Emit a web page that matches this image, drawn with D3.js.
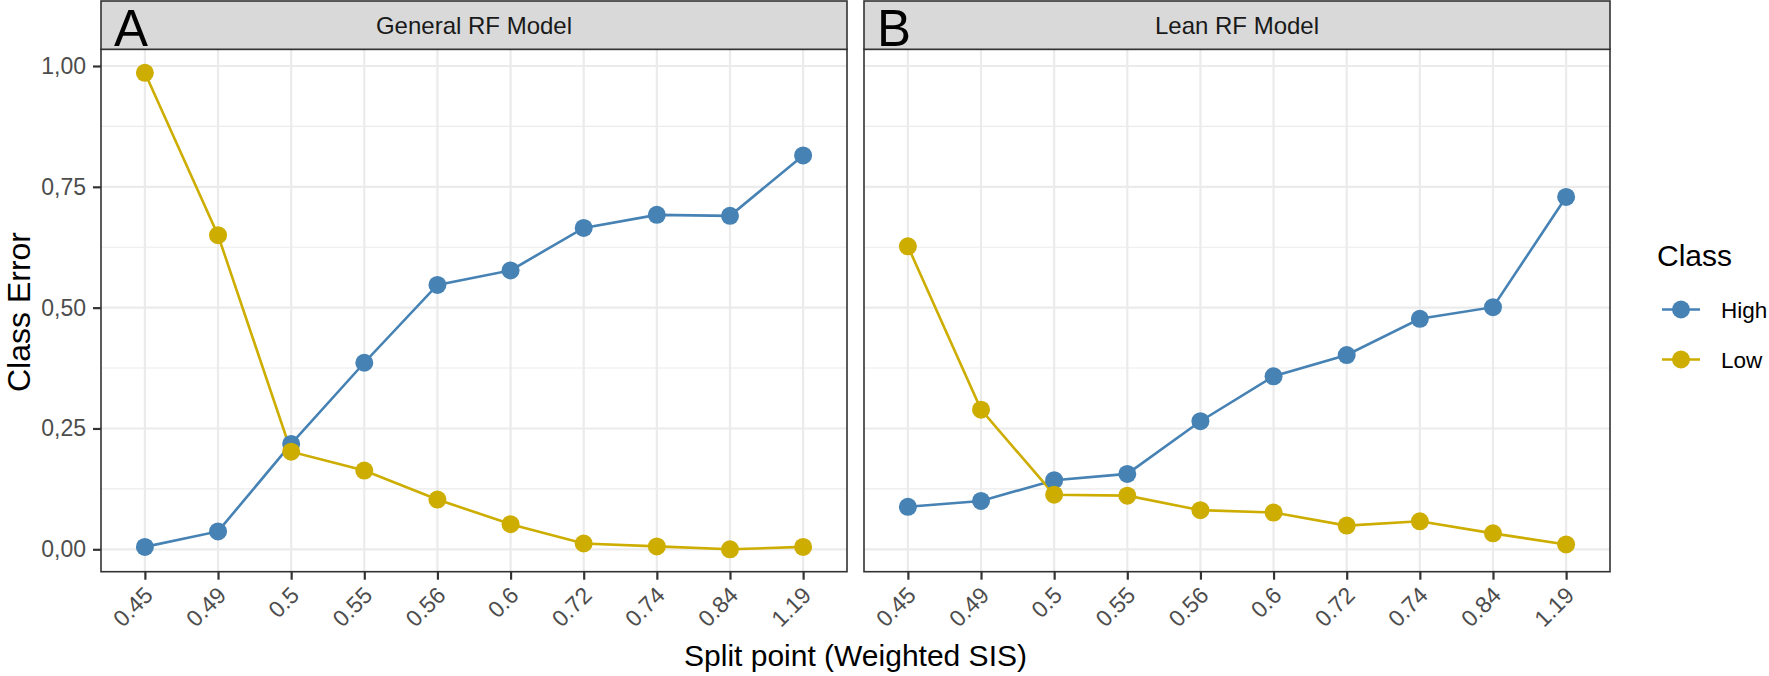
<!DOCTYPE html>
<html><head><meta charset="utf-8">
<script src="https://cdn.jsdelivr.net/npm/d3@7"></script>
<style>
body{margin:0;background:#fff;}
text{font-family:"Liberation Sans",Arial,Helvetica,sans-serif;}
</style></head>
<body><svg id="chart" width="1769" height="676"></svg>
<script>
const categories = ["0.45","0.49","0.5","0.55","0.56","0.6","0.72","0.74","0.84","1.19"];
const panels = ["General RF Model","Lean RF Model"];
const panelLabels = ["A","B"];
const seriesNames = ["High","Low"];
const generalHigh = [0.005,0.037,0.218,0.386,0.547,0.577,0.665,0.692,0.690,0.815];
const generalLow  = [0.986,0.650,0.202,0.163,0.103,0.052,0.012,0.006,0.000,0.005];
const leanHigh    = [0.088,0.100,0.143,0.156,0.265,0.358,0.402,0.477,0.501,0.729];
const leanLow     = [0.627,0.289,0.113,0.111,0.081,0.076,0.049,0.058,0.033,0.010];
const yTicks = [0,0.25,0.5,0.75,1];
const yTickLabels = ["0,00","0,25","0,50","0,75","1,00"];
const yMinor = [0.125,0.375,0.625,0.875];
const colors = {High:"#4682B4", Low:"#CDAD00"};

const data = [
  {High: generalHigh, Low: generalLow},
  {High: leanHigh, Low: leanLow}
];

const svg = d3.select("#chart");
const panelX = [101, 864];
const panelW = 746;
const stripTop = 1, panelTop = 49.3, panelBottom = 571.7;

const y = d3.scaleLinear().domain([0,1]).range([549.3,66]);
const grid = "#EBEBEB", dark = "#333333", tickCol = "#4D4D4D";

panels.forEach((title, pi) => {
  const x0 = panelX[pi];
  const x = d3.scalePoint().domain(categories).range([x0, x0+panelW]).padding(0.6);
  const g = svg.append("g");
  g.append("rect").attr("x",x0).attr("y",panelTop).attr("width",panelW).attr("height",panelBottom-panelTop).attr("fill","#fff");
  g.selectAll(".mn").data(yMinor).enter().append("line")
    .attr("x1",x0).attr("x2",x0+panelW).attr("y1",d=>y(d)).attr("y2",d=>y(d))
    .attr("stroke",grid).attr("stroke-width",1.1);
  g.selectAll(".mj").data(yTicks).enter().append("line")
    .attr("x1",x0).attr("x2",x0+panelW).attr("y1",d=>y(d)).attr("y2",d=>y(d))
    .attr("stroke",grid).attr("stroke-width",2.2);
  g.selectAll(".vx").data(categories).enter().append("line")
    .attr("x1",d=>x(d)).attr("x2",d=>x(d)).attr("y1",panelTop).attr("y2",panelBottom)
    .attr("stroke",grid).attr("stroke-width",2.2);
  seriesNames.forEach(s => {
    const vals = data[pi][s];
    const line = d3.line().x((d,i)=>x(categories[i])).y(d=>y(d));
    g.append("path").datum(vals).attr("d",line).attr("fill","none")
      .attr("stroke",colors[s]).attr("stroke-width",2.6);
  });
  seriesNames.forEach(s => {
    const vals = data[pi][s];
    g.selectAll(".pt"+s).data(vals).enter().append("circle")
      .attr("cx",(d,i)=>x(categories[i])).attr("cy",d=>y(d)).attr("r",9)
      .attr("fill",colors[s]);
  });
  g.append("rect").attr("x",x0).attr("y",panelTop).attr("width",panelW).attr("height",panelBottom-panelTop)
    .attr("fill","none").attr("stroke",dark).attr("stroke-width",1.6);
  g.append("rect").attr("x",x0).attr("y",stripTop).attr("width",panelW).attr("height",panelTop-stripTop)
    .attr("fill","#D9D9D9").attr("stroke",dark).attr("stroke-width",1.6);
  g.append("text").attr("x",x0+panelW/2).attr("y",34).attr("text-anchor","middle")
    .attr("font-size",24).attr("fill","#1A1A1A").text(title);
  g.append("text").attr("x",x0+13).attr("y",46).attr("font-size",51).attr("fill","#000")
    .text(panelLabels[pi]);
  const xa = g.append("g").attr("transform",`translate(0,${panelBottom})`)
    .call(d3.axisBottom(x).tickSize(8).tickSizeOuter(0));
  xa.select(".domain").remove();
  xa.selectAll(".tick line").attr("stroke",dark).attr("stroke-width",2.2);
  xa.selectAll(".tick text").attr("font-size",23).attr("fill",tickCol)
    .attr("text-anchor","end").attr("dy",null).attr("y",null)
    .attr("transform","translate(9,25) rotate(-45)");
  if (pi === 0) {
    const ya = g.append("g").attr("transform",`translate(${x0},0)`)
      .call(d3.axisLeft(y).tickValues(yTicks).tickFormat((d,i)=>yTickLabels[i]).tickSize(8).tickSizeOuter(0));
    ya.select(".domain").remove();
    ya.selectAll(".tick line").attr("stroke",dark).attr("stroke-width",2.2);
    ya.selectAll(".tick text").attr("font-size",23).attr("fill",tickCol).attr("x",-15);
  }
});

svg.append("text").attr("x",(panelX[0]+panelX[1]+panelW)/2).attr("y",666).attr("text-anchor","middle")
  .attr("font-size",30).attr("fill","#000").text("Split point (Weighted SIS)");
svg.append("text").attr("transform","translate(30,312) rotate(-90)").attr("text-anchor","middle")
  .attr("font-size",32).attr("fill","#000").text("Class Error");

const lg = svg.append("g");
lg.append("text").attr("x",1657).attr("y",266).attr("font-size",30).attr("fill","#000").text("Class");
const legY = d3.scalePoint().domain(seriesNames).range([309.5,359.5]);
seriesNames.forEach(s => {
  const cy = legY(s);
  lg.append("line").attr("x1",1662).attr("x2",1700).attr("y1",cy).attr("y2",cy)
    .attr("stroke",colors[s]).attr("stroke-width",2.6);
  lg.append("circle").attr("cx",1681).attr("cy",cy).attr("r",9).attr("fill",colors[s]);
  lg.append("text").attr("x",1721).attr("y",cy+8.5).attr("font-size",22.5).attr("fill","#000").text(s);
});
</script></body></html>
